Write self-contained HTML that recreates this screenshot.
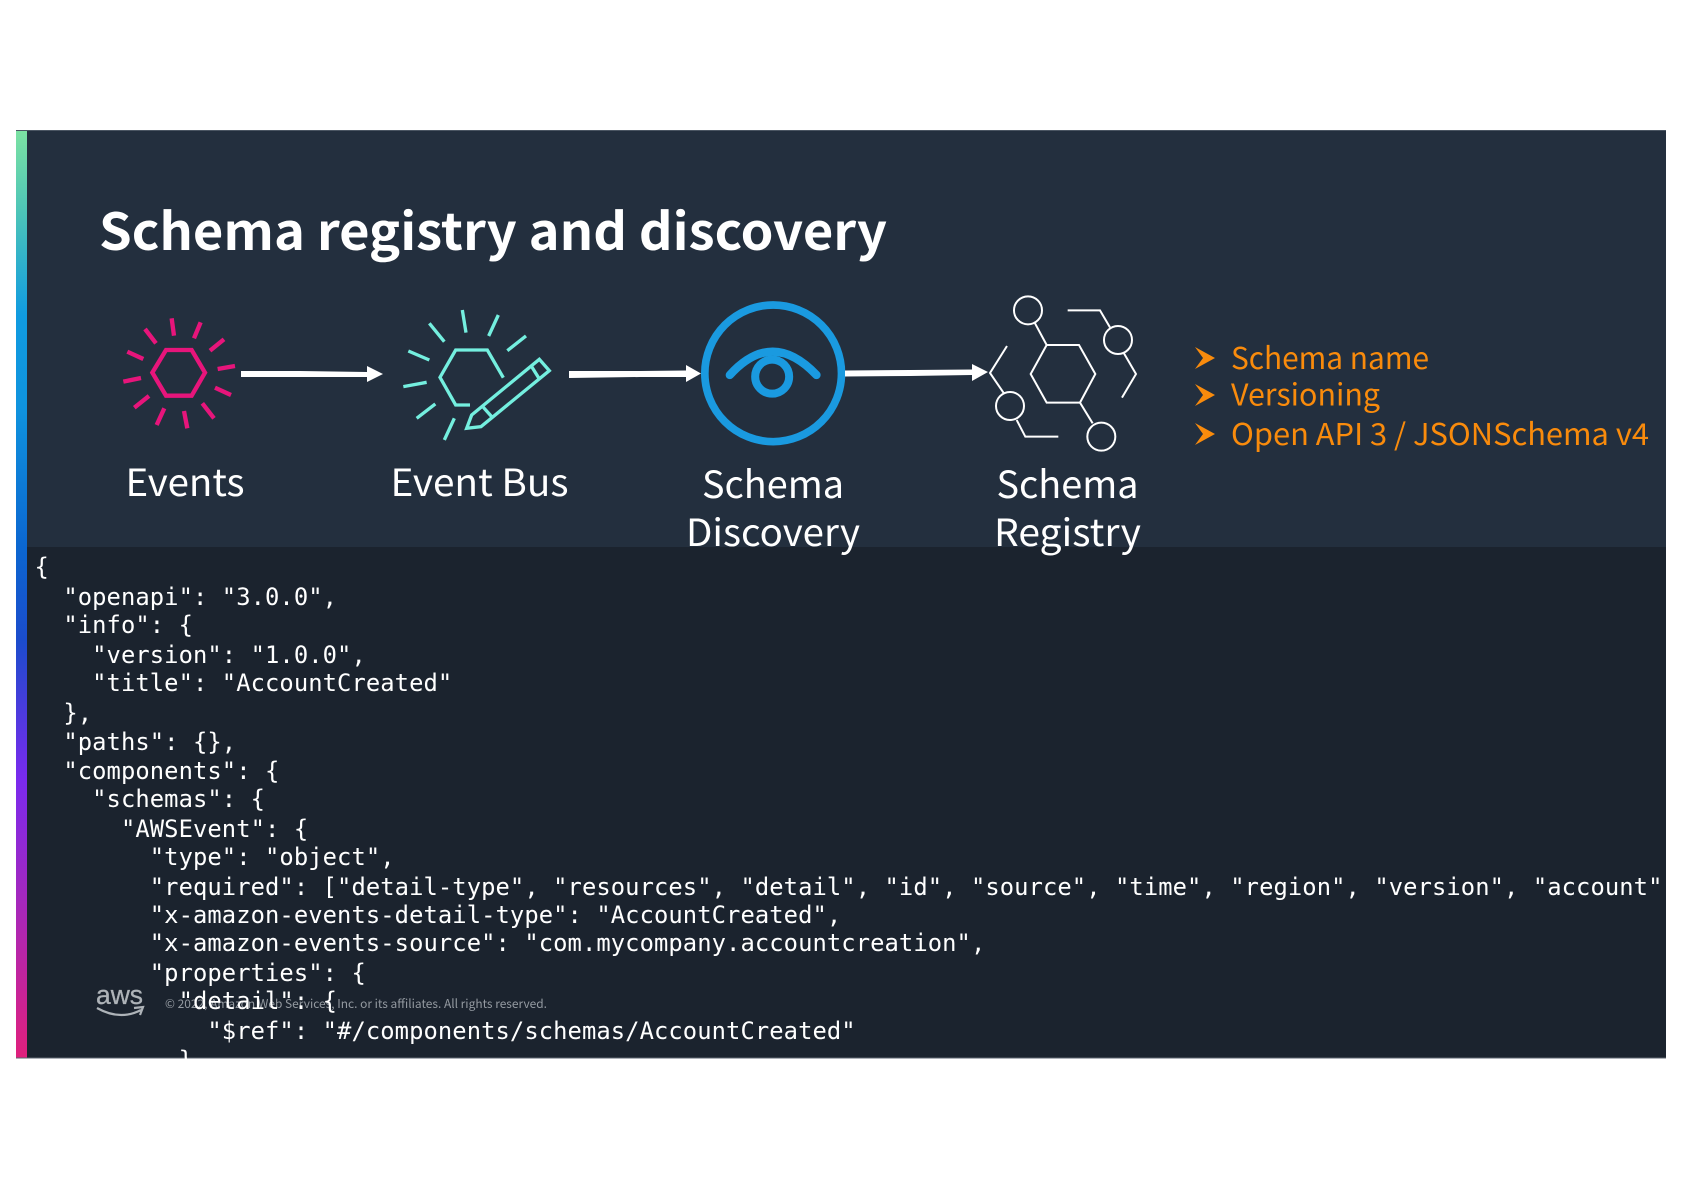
<!DOCTYPE html>
<html><head><meta charset="utf-8"><style>
html,body{margin:0;padding:0;background:#fff}
svg{display:block}
.l{font-family:"Noto Sans CJK JP","Liberation Sans",sans-serif;fill:#fff;font-size:37.5px}
.b{font-family:"Noto Sans CJK JP","Liberation Sans",sans-serif;fill:#f98b0c;font-size:30px}
.c{font-family:"DejaVu Sans Mono","Liberation Mono",monospace;fill:#fff;font-size:23.8px;letter-spacing:.08px;white-space:pre}
</style></head><body>
<svg width="1684" height="1191" viewBox="0 0 1684 1191" xmlns="http://www.w3.org/2000/svg">
<defs>
<linearGradient id="g" x1="0" y1="0" x2="0" y2="1">
<stop offset="0" stop-color="#7ce2a2"/><stop offset=".09" stop-color="#4cc4b8"/><stop offset=".2" stop-color="#109be0"/><stop offset=".3" stop-color="#0f93de"/><stop offset=".45" stop-color="#0b66d0"/><stop offset=".55" stop-color="#1b4ccc"/><stop offset=".7" stop-color="#7a2aee"/><stop offset=".82" stop-color="#a128c0"/><stop offset="1" stop-color="#e0207c"/>
</linearGradient>
<clipPath id="p"><rect x="16" y="130" width="1650" height="928.500"/></clipPath>
</defs>
<rect x="16" y="130" width="1650" height="928.500" fill="#232f3e"/>
<rect x="22" y="547" width="1644" height="511.500" fill="#1b232e"/>
<rect x="16" y="130" width="11" height="928.500" fill="url(#g)"/>
<rect x="16" y="130" width="1650" height="1" fill="#4a5562"/>
<rect x="16" y="1057.500" width="1650" height="1" fill="#5d6670"/>

<text x="99" y="250" textLength="788" lengthAdjust="spacingAndGlyphs" style="font-family:'Noto Sans CJK JP','Liberation Sans',sans-serif;font-weight:700;font-size:51px;fill:#fff">Schema registry and discovery</text>

<g transform="translate(110,305) scale(.3333)" fill="none" stroke="#e7157b" stroke-width="13">
<path d="M127 203L168 135H245L285 203L245 272H168Z" stroke-linejoin="miter"/>
<path d="M185 40L192 92M272 52L252 100M342 103L300 137M375 183L323 192M363 270L315 248M312 340L277 295M232 370L222 318M140 360L163 310M73 308L117 273M40 230L93 219M52 140L100 162M105 72L138 115"/>
</g>

<g transform="translate(390,300) scale(.3333)" fill="none" stroke="#74efdf" stroke-width="10">
<path d="M340 233L292 150H197L150 232L197 315H240"/>
<path d="M217 30L228 98M325 45L296 108M408 108L352 152M118 70L163 125M55 153L118 180M40 260L110 247M80 355L136 312M193 355L163 420"/>
<path d="M230 385L245 345L448 178L478 212L273 380Z"/>
<path d="M280 322L305 350M425 200L447 235"/>
</g>

<g transform="translate(690.500,290) scale(.3333)" fill="none" stroke="#1a9ae0" stroke-width="23">
<circle cx="248" cy="250" r="205"/>
<path d="M118 255Q245 115 378 255" stroke-linecap="round" stroke-width="25"/>
<circle cx="245" cy="260" r="51" stroke-width="24"/>
</g>

<g transform="translate(1000,280) scale(.3333)" fill="none" stroke="#fff" stroke-width="6">
<circle cx="84" cy="91" r="42"/><circle cx="354" cy="180" r="42"/><circle cx="30" cy="378" r="42"/><circle cx="304" cy="470" r="42"/>
<path d="M140 195H237L286 282L240 368H140L92 282Z"/>
<path d="M105 130L140 195M240 368L278 430M203 91H300L330 142M372 220L408 282L366 353M50 420L76 470H175M21 198L-30 279L11 339"/>
</g>

<g fill="#fff">
<path d="M241 371L300 371L367 372V366L383 374L367 382V377L300 377L241 377Z"/>
<path d="M569 371L640 371L686 370.500V365L701 373.500L686 382V377L640 377L569 378Z"/>
<path d="M845 370.500L910 370L972 369.500V364L988 372L972 381V375L910 376L845 376.500Z"/>
</g>

<text class="l" x="125.500" y="496" textLength="119" lengthAdjust="spacingAndGlyphs">Events</text>
<text class="l" x="390.500" y="496" textLength="178" lengthAdjust="spacingAndGlyphs">Event Bus</text>
<text class="l" x="702" y="498" textLength="142" lengthAdjust="spacingAndGlyphs">Schema</text>
<text class="l" x="686" y="546" textLength="174" lengthAdjust="spacingAndGlyphs">Discovery</text>
<text class="l" x="996.500" y="498" textLength="142" lengthAdjust="spacingAndGlyphs">Schema</text>
<text class="l" x="994" y="546" textLength="147" lengthAdjust="spacingAndGlyphs">Registry</text>

<g fill="#f98b0c">
<path d="M1195 347L1215 358L1195 369L1203 358Z"/>
<path d="M1195 384L1215 395L1195 406L1203 395Z"/>
<path d="M1195 423L1215 434L1195 445L1203 434Z"/>
</g>
<text class="b" x="1231" y="369" textLength="198" lengthAdjust="spacingAndGlyphs">Schema name</text>
<text class="b" x="1231" y="405.500" textLength="149" lengthAdjust="spacingAndGlyphs">Versioning</text>
<text class="b" x="1231" y="445" textLength="418" lengthAdjust="spacingAndGlyphs">Open API 3 / JSONSchema v4</text>

<text x="96" y="1004" textLength="47" lengthAdjust="spacingAndGlyphs" style="font-family:'Liberation Sans',sans-serif;font-size:27px;fill:#aeb3b8;stroke:#aeb3b8;stroke-width:.3">aws</text>
<path d="M97 1008Q120 1021 141 1010M134 1008L143 1007L140 1015" fill="none" stroke="#aeb3b8" stroke-width="2.200"/>
<text x="165" y="1008" textLength="382" lengthAdjust="spacingAndGlyphs" style="font-family:'Noto Sans CJK JP','Liberation Sans',sans-serif;font-size:12px;fill:#949aa1">© 2022, Amazon Web Services, Inc. or its affiliates. All rights reserved.</text>

<g clip-path="url(#p)" class="c">
<text class="c" x="34.500" y="575">{</text>
<text class="c" x="34.500" y="605">  "openapi": "3.0.0",</text>
<text class="c" x="34.500" y="633">  "info": {</text>
<text class="c" x="34.500" y="663">    "version": "1.0.0",</text>
<text class="c" x="34.500" y="691">    "title": "AccountCreated"</text>
<text class="c" x="34.500" y="721">  },</text>
<text class="c" x="34.500" y="750">  "paths": {},</text>
<text class="c" x="34.500" y="779">  "components": {</text>
<text class="c" x="34.500" y="807">    "schemas": {</text>
<text class="c" x="34.500" y="837">      "AWSEvent": {</text>
<text class="c" x="34.500" y="865">        "type": "object",</text>
<text class="c" x="34.500" y="895">        "required": ["detail-type", "resources", "detail", "id", "source", "time", "region", "version", "account"</text>
<text class="c" x="34.500" y="923">        "x-amazon-events-detail-type": "AccountCreated",</text>
<text class="c" x="34.500" y="951">        "x-amazon-events-source": "com.mycompany.accountcreation",</text>
<text class="c" x="34.500" y="981">        "properties": {</text>
<text class="c" x="34.500" y="1009">          "detail": {</text>
<text class="c" x="34.500" y="1039">            "$ref": "#/components/schemas/AccountCreated"</text>
<text class="c" x="34.500" y="1068">          }</text>
</g>
</svg>
</body></html>
